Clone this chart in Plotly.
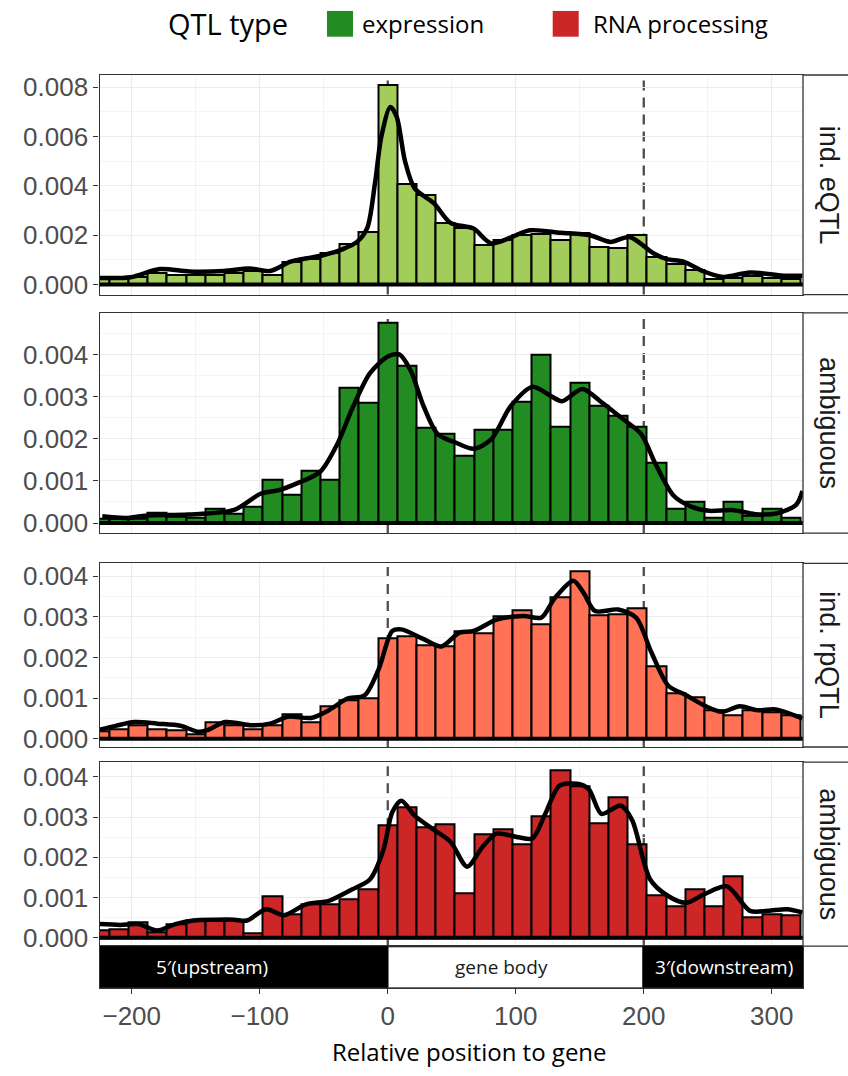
import plotly.graph_objects as go

# ---------------- data ----------------
bin_centers = [-225, -210, -195, -180, -165, -150, -135, -120, -105, -90, -75, -60, -45, -30, -15,
               0, 15, 30, 45, 60, 75, 90, 105, 120, 135, 150, 165, 180, 195,
               210, 225, 240, 255, 270, 285, 300, 315]

eqtl_ind = [0.00025, 0.00028, 0.00030, 0.00047, 0.00040, 0.00040, 0.00040, 0.00047, 0.00053, 0.00040,
            0.00093, 0.00103, 0.00127, 0.00163, 0.00213,
            0.00809, 0.00409, 0.00364, 0.00249, 0.00230, 0.00160, 0.00180, 0.00200, 0.00204, 0.00180,
            0.00207, 0.00153, 0.00150, 0.00200,
            0.00113, 0.00084, 0.00060, 0.00024, 0.00027, 0.00033, 0.00027, 0.00024]

eqtl_amb = [0.00010, 0.00010, 0.00010, 0.00025, 0.00015, 0.00013, 0.00034, 0.00021, 0.00038, 0.00102,
            0.00068, 0.00125, 0.00102, 0.00322, 0.00285,
            0.00475, 0.00373, 0.00227, 0.00211, 0.00160, 0.00221, 0.00221, 0.00287, 0.00400, 0.00229,
            0.00332, 0.00277, 0.00255, 0.00229,
            0.00143, 0.00033, 0.00051, 0.00013, 0.00051, 0.00016, 0.00034, 0.00013]

rpqtl_ind = [0.00017, 0.00024, 0.00033, 0.00024, 0.00021, 0.00010, 0.00039, 0.00033, 0.00024, 0.00032,
             0.00059, 0.00041, 0.00080, 0.00094, 0.00100,
             0.00247, 0.00251, 0.00230, 0.00227, 0.00263, 0.00259, 0.00302, 0.00316, 0.00281, 0.00349,
             0.00411, 0.00303, 0.00306, 0.00320,
             0.00177, 0.00111, 0.00102, 0.00070, 0.00058, 0.00070, 0.00066, 0.00058]

rpqtl_amb = [0.00018, 0.00022, 0.00038, 0.00014, 0.00034, 0.00043, 0.00043, 0.00043, 0.00012, 0.00104,
             0.00059, 0.00083, 0.00083, 0.00097, 0.00122,
             0.00280, 0.00326, 0.00276, 0.00282, 0.00112, 0.00258, 0.00269, 0.00233, 0.00302, 0.00416,
             0.00378, 0.00284, 0.00351, 0.00232,
             0.00105, 0.00079, 0.00120, 0.00078, 0.00153, 0.00051, 0.00059, 0.00056]

dens1_x = [-225, -201, -178, -155, -128, -108, -92, -76, -63, -50, -35, -24, -16, -10, -5, 2, 7, 13.5,
           21, 36, 49, 67, 81, 111, 135, 158, 174, 189, 207.5, 218, 231, 247, 262, 283, 309, 324]
dens1_y = [0.00027, 0.00030, 0.00063, 0.00053, 0.00055, 0.00065, 0.00055, 0.00093, 0.00107, 0.00120,
           0.00144, 0.00173, 0.00230, 0.00410, 0.00600, 0.00720, 0.00680, 0.00500,
           0.00390, 0.00330, 0.00250, 0.00227, 0.00167, 0.00220, 0.00210, 0.00200, 0.00173, 0.00193,
           0.00127, 0.00103, 0.00093, 0.00053, 0.00031, 0.00049, 0.00036, 0.00036]

dens2_x = [-223, -205, -188, -156, -120, -99, -85, -71, -53, -39, -28, -14, 0, 9, 17.7, 28, 39, 53, 67,
           81, 96, 113, 127, 136, 152, 166, 184, 198, 209, 223, 237, 251, 269, 287, 304, 319, 324]
dens2_y = [0.00016, 0.00012, 0.00018, 0.00020, 0.00031, 0.00070, 0.00078, 0.00094, 0.00121, 0.00190,
           0.00270, 0.00355, 0.00395, 0.00400, 0.00363, 0.00277, 0.00211, 0.00191, 0.00176,
           0.00199, 0.00277, 0.00323, 0.00302, 0.00289, 0.00318, 0.00289, 0.00246, 0.00211, 0.00141,
           0.00066, 0.00039, 0.00029, 0.00031, 0.00021, 0.00023, 0.00043, 0.00076]

dens3_x = [-225, -212, -198, -180, -162, -148, -141, -127, -106, -92, -78, -60, -46, -32, -18, -7, 3.5,
           10.6, 28, 42, 56, 67, 85, 106, 120, 130.5, 145, 153, 162, 180, 194, 206, 219, 233, 247,
           261, 275, 289, 303, 324]
dens3_y = [0.00022, 0.00032, 0.00041, 0.00037, 0.00032, 0.00017, 0.00021, 0.00041, 0.00033, 0.00037,
           0.00054, 0.00051, 0.00070, 0.00098, 0.00107, 0.00172, 0.00265,
           0.00269, 0.00245, 0.00227, 0.00261, 0.00265, 0.00293, 0.00302, 0.00298, 0.00346, 0.00389,
           0.00359, 0.00314, 0.00318, 0.00298, 0.00212, 0.00131, 0.00107, 0.00082,
           0.00066, 0.00080, 0.00070, 0.00072, 0.00050]

dens4_x = [-225, -209, -195, -180, -166, -152, -134, -120, -110, -95, -81, -64, -46, -28, -14, -3.5, 3.5,
           10.6, 21, 35, 49, 62, 74, 85, 102, 113, 123, 134, 148, 157, 167, 182, 191, 205, 219, 233,
           247, 265, 283, 297, 312, 324]
dens4_y = [0.00034, 0.00032, 0.00034, 0.00018, 0.00034, 0.00043, 0.00045, 0.00045, 0.00043, 0.00071,
           0.00056, 0.00083, 0.00092, 0.00120, 0.00145, 0.00218, 0.00312,
           0.00341, 0.00304, 0.00271, 0.00239, 0.00177, 0.00226, 0.00259, 0.00250, 0.00247, 0.00308,
           0.00378, 0.00383, 0.00370, 0.00308, 0.00329, 0.00292, 0.00145, 0.00104, 0.00087,
           0.00108, 0.00128, 0.00067, 0.00067, 0.00071, 0.00063]

panel_labels = ["ind. eQTL", "ambiguous", "ind. rpQTL", "ambiguous"]
panel_colors = ["#A2CD5A", "#228B22", "#FF7256", "#CD2626"]
panel_yticks = [[0.000, 0.002, 0.004, 0.006, 0.008],
                [0.000, 0.001, 0.002, 0.003, 0.004],
                [0.000, 0.001, 0.002, 0.003, 0.004],
                [0.000, 0.001, 0.002, 0.003, 0.004]]
panel_yminor = [[0.001, 0.003, 0.005, 0.007],
                [0.0005, 0.0015, 0.0025, 0.0035, 0.0045],
                [0.0005, 0.0015, 0.0025, 0.0035],
                [0.0005, 0.0015, 0.0025, 0.0035]]

x_ticks = [-200, -100, 0, 100, 200, 300]
x_minor = [-150, -50, 50, 150, 250]
gene_boundaries = [0, 200]

region_start = [-275, 0, 200]
region_end = [0, 200, 325]
region_labels = ["5\u2032(upstream)", "gene body", "3\u2032(downstream)"]
region_label_x = [-137.5, 89, 262.5]
region_fill = ["#000000", "#FFFFFF", "#000000"]
region_text_color = ["#FFFFFF", "#1A1A1A", "#FFFFFF"]

legend_title = "QTL type"
legend_labels = ["expression", "RNA processing"]
legend_colors = ["#228B22", "#CD2626"]
x_title = "Relative position to gene"

# ---------------- layout geometry (pixels) ----------------
W, H = 848, 1076
panels_px = [(72.7, 294.3), (312.7, 535.0), (565.6, 751.0), (766.3, 952.0)]
gene_px = (952.0, 994.0)
x_left_px, x_right_px = 99.5, 803.0
x_range = [-225.2, 324.4]


def yp(px):
    return 1 - px / H


def xp(px):
    return px / W


x_dom = [xp(x_left_px), xp(x_right_px)]
# major grid positions inside panels (the gene boundaries get dashed lines instead)
panel_grid_x = [t for t in x_ticks if t not in gene_boundaries]

series = [eqtl_ind, eqtl_amb, rpqtl_ind, rpqtl_amb]
dens = [(dens1_x, dens1_y), (dens2_x, dens2_y), (dens3_x, dens3_y), (dens4_x, dens4_y)]

fig = go.Figure()
layout = dict(
    width=W, height=H, margin=dict(l=0, r=0, t=0, b=0),
    paper_bgcolor="white", plot_bgcolor="rgba(0,0,0,0)", showlegend=False,
    bargap=0,
)

shapes = []
annotations = []
num_font = "Liberation Sans, Arial, sans-serif"
tick_font = dict(family=num_font, size=26, color="#4D4D4D")
txt_font = "Open Sans, Lato, sans-serif"

for i in range(4):
    n = i + 1
    xa = "x" if n == 1 else f"x{n}"
    ya = "y" if n == 1 else f"y{n}"
    vals = series[i]
    ymax = max(vals)
    pad = 0.05 * ymax
    top_px, bot_px = panels_px[i]
    fig.add_trace(go.Bar(
        x=bin_centers, y=vals, width=15, xaxis=xa, yaxis=ya,
        marker=dict(color=panel_colors[i], line=dict(color="black", width=2)),
        hoverinfo="skip",
    ))
    fig.add_trace(go.Scatter(
        x=dens[i][0], y=dens[i][1], xaxis=xa, yaxis=ya, mode="lines",
        line=dict(color="black", width=4.5, shape="spline", smoothing=0.8),
        hoverinfo="skip",
    ))
    layout[f"xaxis{'' if n == 1 else n}"] = dict(
        domain=x_dom, range=x_range, anchor=ya,
        tickmode="array", tickvals=panel_grid_x, showticklabels=False, ticks="",
        showgrid=True, gridcolor="#EBEBEB", gridwidth=1.4,
        minor=dict(tickmode="array", tickvals=x_minor, showgrid=True, gridcolor="#F4F4F4", gridwidth=0.8),
        zeroline=False, showline=True, mirror=True, linecolor="#333333", linewidth=1.3,
    )
    layout[f"yaxis{'' if n == 1 else n}"] = dict(
        domain=[yp(bot_px), yp(top_px)], range=[-pad, ymax + pad], anchor=xa,
        tickmode="array", tickvals=panel_yticks[i],
        ticktext=[f"{v:.3f}" for v in panel_yticks[i]],
        ticks="outside", ticklen=5, tickwidth=1.3, tickcolor="#333333",
        tickfont=tick_font,
        showgrid=True, gridcolor="#EBEBEB", gridwidth=1.4,
        minor=dict(tickmode="array", tickvals=panel_yminor[i], showgrid=True, gridcolor="#F4F4F4", gridwidth=0.8),
        zeroline=False, showline=True, mirror=True, linecolor="#333333", linewidth=1.3,
    )
    # dashed gene boundaries beneath the bars
    for gb in gene_boundaries:
        shapes.append(dict(type="line", xref=xa, yref=f"{ya} domain", x0=gb, x1=gb, y0=0, y1=1,
                           line=dict(color="#4D4D4D", width=2.3, dash="10px,7px"), layer="below"))
    # density baseline
    shapes.append(dict(type="line", xref=f"{xa} domain", yref=ya, x0=0, x1=1, y0=0, y1=0,
                       line=dict(color="black", width=4), layer="above"))
    # strip
    shapes.append(dict(type="rect", xref="paper", yref="paper", x0=xp(x_right_px), x1=1.08,
                       y0=yp(bot_px), y1=yp(top_px), fillcolor="white",
                       line=dict(color="#333333", width=1.3), layer="above"))
    annotations.append(dict(xref="paper", yref="paper", x=xp(829), y=yp((top_px + bot_px) / 2),
                            text=panel_labels[i], textangle=90, showarrow=False,
                            font=dict(family=num_font, size=27, color="#1A1A1A"),
                            xanchor="center", yanchor="middle"))

# gene structure bar
fig.add_trace(go.Bar(
    y=[0.5] * len(region_start), x=[e - s for s, e in zip(region_start, region_end)], base=region_start,
    orientation="h", width=1, xaxis="x5", yaxis="y5",
    marker=dict(color=region_fill, line=dict(color="black", width=2)), hoverinfo="skip",
))
layout["xaxis5"] = dict(
    domain=x_dom, range=x_range, anchor="y5",
    tickmode="array", tickvals=x_ticks, ticktext=[str(v).replace("-", "\u2212") for v in x_ticks],
    ticks="outside", ticklen=5, tickwidth=1.3, tickcolor="#333333", tickfont=tick_font,
    showgrid=False, zeroline=False, showline=True, mirror=True, linecolor="#333333", linewidth=1.3,
)
layout["yaxis5"] = dict(
    domain=[yp(gene_px[1]), yp(gene_px[0])], range=[0, 1], anchor="x5",
    showticklabels=False, ticks="", showgrid=False, zeroline=False,
    showline=True, mirror=True, linecolor="#333333", linewidth=1.3,
)
for lx, lab, col in zip(region_label_x, region_labels, region_text_color):
    annotations.append(dict(xref="x5", yref="y5", x=lx, y=0.5, text=lab, showarrow=False,
                            font=dict(family=txt_font, size=19, color=col),
                            xanchor="center", yanchor="middle"))

# x axis title
annotations.append(dict(xref="paper", yref="paper", x=xp(470), y=yp(1058), text=x_title, showarrow=False,
                        font=dict(family=txt_font, size=24, color="#000000"),
                        xanchor="center", yanchor="middle"))

# legend (top)
annotations.append(dict(xref="paper", yref="paper", x=xp(166), y=yp(21), text=legend_title, showarrow=False,
                        font=dict(family=txt_font, size=29, color="#000000"),
                        xanchor="left", yanchor="middle"))
legend_box_x = [327, 552.7]
legend_text_x = [360, 591]
for bx, tx, lab, col in zip(legend_box_x, legend_text_x, legend_labels, legend_colors):
    shapes.append(dict(type="rect", xref="paper", yref="paper", x0=xp(bx), x1=xp(bx + 26),
                       y0=yp(34), y1=yp(8), fillcolor=col, line=dict(width=0)))
    annotations.append(dict(xref="paper", yref="paper", x=xp(tx), y=yp(21), text=lab, showarrow=False,
                            font=dict(family=txt_font, size=24, color="#000000"),
                            xanchor="left", yanchor="middle"))

layout["shapes"] = shapes
layout["annotations"] = annotations
fig.update_layout(**layout)

fig.write_html("out.html")
